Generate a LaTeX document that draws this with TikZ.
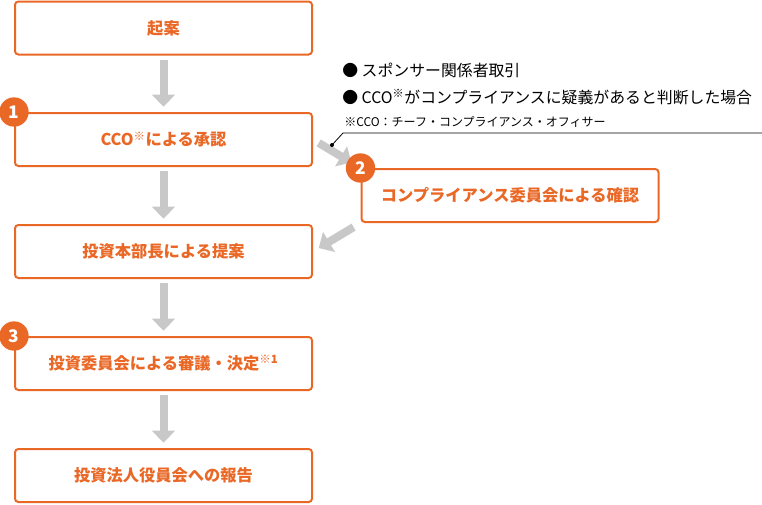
\documentclass[tikz,border=0pt]{standalone}
\usepackage{fontspec}
\setmainfont{Noto Sans CJK JP}
\usepackage{tikz}
\usetikzlibrary{arrows.meta,calc,positioning}
\definecolor{flowOrange}{RGB}{234,104,38}
\definecolor{flowGray}{RGB}{200,200,200}

\begin{document}
\begin{tikzpicture}[x=0.75pt,y=-0.75pt,
  stepbox/.style={draw=flowOrange,line width=1.5pt,rounded corners=2.5pt,fill=white,
    minimum width=222.75pt,minimum height=39.75pt,text=flowOrange,
    font=\bfseries\fontsize{12.2}{14}\selectfont},
  badge/.style={circle,fill=flowOrange,text=white,minimum size=22pt,inner sep=0pt,
    font=\bfseries\fontsize{13}{14}\selectfont},
  flow/.style={draw=flowGray,line width=6pt,-{Triangle[length=9pt,width=17pt]},
    shorten <=3pt,shorten >=4pt},
  note/.style={anchor=west,inner sep=0pt,font=\fontsize{11.9}{13}\selectfont}]
  \useasboundingbox (0,0) rectangle (762,504);

  % steps on the left
  \node[stepbox] (kian)    at (163.5,28)    {起案};
  \node[stepbox] (cco)     at (163.5,139.5) {CCO\textsuperscript{※}による承認};
  \node[stepbox] (teian)   at (163.5,251.5) {投資本部長による提案};
  \node[stepbox] (shingi)  at (163.5,363.5) {投資委員会による審議・決定\textsuperscript{※1}};
  \node[stepbox] (houkoku) at (163.5,475.5) {投資法人役員会への報告};
  \node[stepbox] (kakunin) at (510,195.5)   {コンプライアンス委員会による確認};

  % flow arrows
  \draw[flow] (kian)   -- (cco);
  \draw[flow] (cco)    -- (teian);
  \draw[flow] (teian)  -- (shingi);
  \draw[flow] (shingi) -- (houkoku);
  \draw[flow,shorten <=5pt,shorten >=8pt] (cco.east) -- (kakunin.north west);
  \draw[flow,shorten <=6pt,shorten >=5pt] (kakunin.south west) -- (teian.east);

  % numbered badges
  \node[badge] (b1) at (cco.north west)     {1};
  \node[badge] (b2) at (kakunin.north west) {2};
  \node[badge] (b3) at (shingi.north west)  {3};

  % conditions for the committee
  \node[note] (cond1) at (342,70) {● スポンサー関係者取引};
  \node[note] (cond2) at (342,97) {● CCO\textsuperscript{※}がコンプライアンスに疑義があると判断した場合};
  \node[note,font=\fontsize{9}{10}\selectfont] (fn) at (344,122) {※CCO：チーフ・コンプライアンス・オフィサー};

  % leader line
  \coordinate (ldot) at (332,145);
  \coordinate (lknee) at (343,133);
  \coordinate (lend) at (762,133);
  \draw[line width=0.6pt] (ldot) -- (lknee) -- (lend);
  \fill (ldot) circle (2);
\end{tikzpicture}
\end{document}
